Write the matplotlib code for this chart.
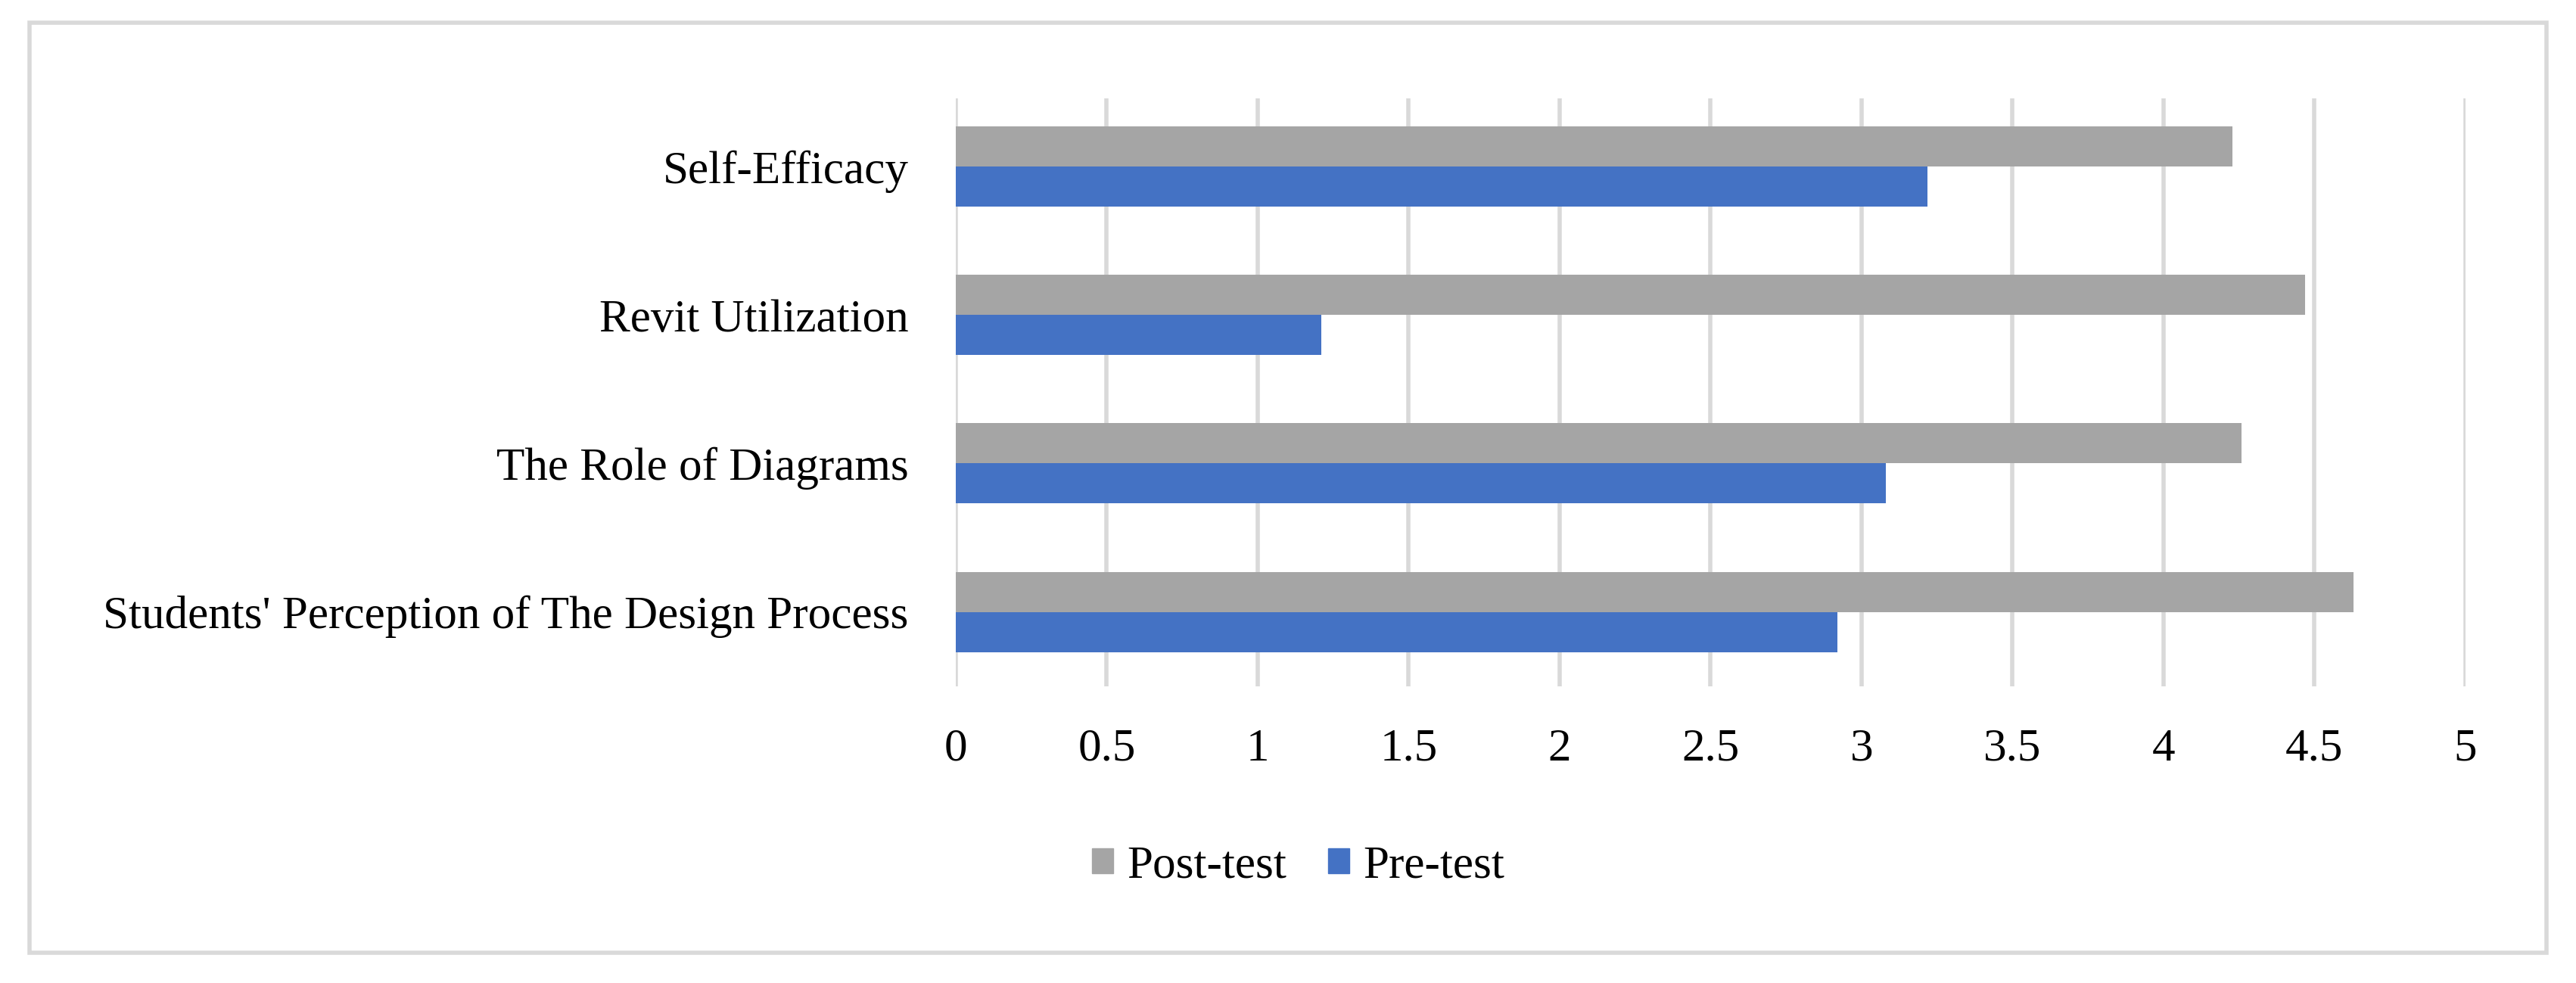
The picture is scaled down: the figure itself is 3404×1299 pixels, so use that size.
import matplotlib
matplotlib.use("Agg")
import matplotlib.pyplot as plt
from matplotlib.patches import Patch, Rectangle
import numpy as np

# Data (bottom to top, as drawn)
categories = ["Students' Perception of The Design Process", "The Role of Diagrams",
              "Revit Utilization", "Self-Efficacy"]
post_test = [4.63, 4.26, 4.47, 4.23]
pre_test = [2.92, 3.08, 1.21, 3.22]
x_ticks = [0, 0.5, 1, 1.5, 2, 2.5, 3, 3.5, 4, 4.5, 5]
x_tick_labels = ["0", "0.5", "1", "1.5", "2", "2.5", "3", "3.5", "4", "4.5", "5"]

GRAY = "#A5A5A5"
BLUE = "#4472C4"
GRID = "#D9D9D9"

plt.rcParams["font.family"] = ["Liberation Serif", "DejaVu Serif"]
FS = 44

fig = plt.figure(figsize=(34.04, 12.99), dpi=100)
ax = fig.add_axes([0.371, 0.302, 0.586, 0.598])

y = np.arange(len(categories))
h = 0.27
ax.barh(y + h / 2, post_test, height=h, color=GRAY, label="Post-test", zorder=3)
ax.barh(y - h / 2, pre_test, height=h, color=BLUE, label="Pre-test", zorder=3)

ax.set_xlim(0, 5)
ax.set_ylim(-0.5, len(categories) - 0.54)
ax.set_xticks(x_ticks)
ax.set_xticklabels(x_tick_labels)
ax.set_yticks(y)
ax.set_yticklabels(categories)
ax.tick_params(axis="x", length=0, pad=40, labelsize=FS)
ax.tick_params(axis="y", length=0, pad=45, labelsize=FS)
ax.xaxis.grid(True, color=GRID, linewidth=4, zorder=0)
ax.set_axisbelow(True)
for s in ax.spines.values():
    s.set_visible(False)

handles = [Patch(color=GRAY, label="Post-test"), Patch(color=BLUE, label="Pre-test")]
fig.legend(handles=handles, loc="center", bbox_to_anchor=(0.504, 0.119), ncol=2,
           frameon=False, fontsize=FS, handlelength=0.45, handleheight=0.45,
           handletextpad=0.3, columnspacing=0.9)

# Outer chart border
fig.patches.append(Rectangle((39 / 3404, 1 - 1259 / 1299), (3365 - 39) / 3404, (1259 - 30) / 1299,
                             transform=fig.transFigure, fill=False, edgecolor=GRID, linewidth=4))

fig.savefig("out.png", dpi=100)
